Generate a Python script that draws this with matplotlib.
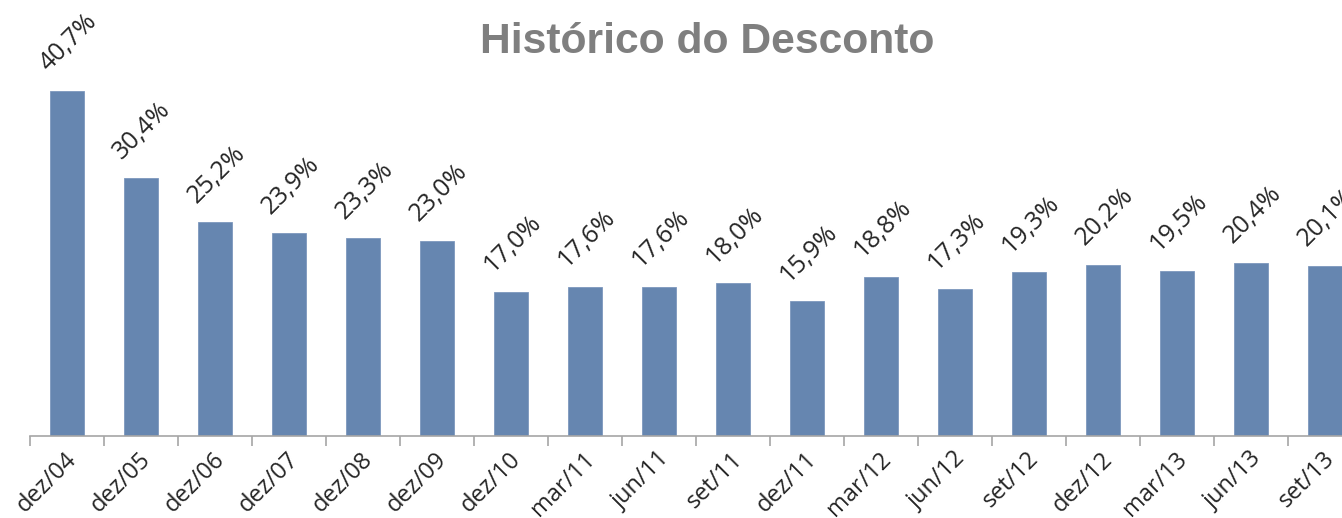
import matplotlib
matplotlib.use("Agg")
import matplotlib.pyplot as plt
import matplotlib.transforms as mtransforms
import numpy as np

categories = ["dez/04", "dez/05", "dez/06", "dez/07", "dez/08", "dez/09", "dez/10",
              "mar/11", "jun/11", "set/11", "dez/11", "mar/12", "jun/12", "set/12",
              "dez/12", "mar/13", "jun/13", "set/13"]
values = [40.7, 30.4, 25.2, 23.9, 23.3, 23.0, 17.0, 17.6, 17.6, 18.0, 15.9,
          18.8, 17.3, 19.3, 20.2, 19.5, 20.4, 20.1]
labels = [f"{v:.1f}%".replace(".", ",") for v in values]

W, H = 1342, 518
fig = plt.figure(figsize=(W / 100, H / 100), dpi=100)
ax = fig.add_axes([30 / W, 82 / H, 1332 / W, 381.6 / H])

x = np.arange(len(categories))
ax.bar(x, values, width=0.45, color="#6686b0", edgecolor="#7d98bd", linewidth=0.6)
ax.set_xlim(-0.5, len(categories) - 0.5)
ax.set_ylim(0, 45)

for s in ["top", "right", "left"]:
    ax.spines[s].set_visible(False)
ax.spines["bottom"].set_color("#a6a6a6")
ax.spines["bottom"].set_linewidth(1.2)
ax.set_yticks([])

ax.set_xticks(x)
ax.set_xticklabels(categories, rotation=45, ha="right", rotation_mode="anchor",
                   fontsize=17, family="Open Sans", color="#262626")
ax.set_xticks(np.arange(-0.5, len(categories)), minor=True)
ax.tick_params(axis="x", which="major", length=0, pad=8)
ax.tick_params(axis="x", which="minor", length=7, width=1.2, color="#a6a6a6", direction="out")
offset = mtransforms.ScaledTranslation(-2 / 100, 0, fig.dpi_scale_trans)
for lbl in ax.get_xticklabels():
    lbl.set_transform(lbl.get_transform() + offset)

for xi, v, t in zip(x, values, labels):
    ax.annotate(t, (xi, v), xytext=(-13.5, 13.5), textcoords="offset points",
                rotation=45, rotation_mode="anchor", ha="left", va="baseline",
                fontsize=18, family="Open Sans", color="#262626", annotation_clip=False)

fig.text(707 / W, 1 - 53 / H, "Histórico do Desconto", ha="center", va="baseline",
         fontsize=30.7, fontweight="bold", family="Liberation Sans", color="#7f7f7f")

fig.savefig("out.png", dpi=100)
